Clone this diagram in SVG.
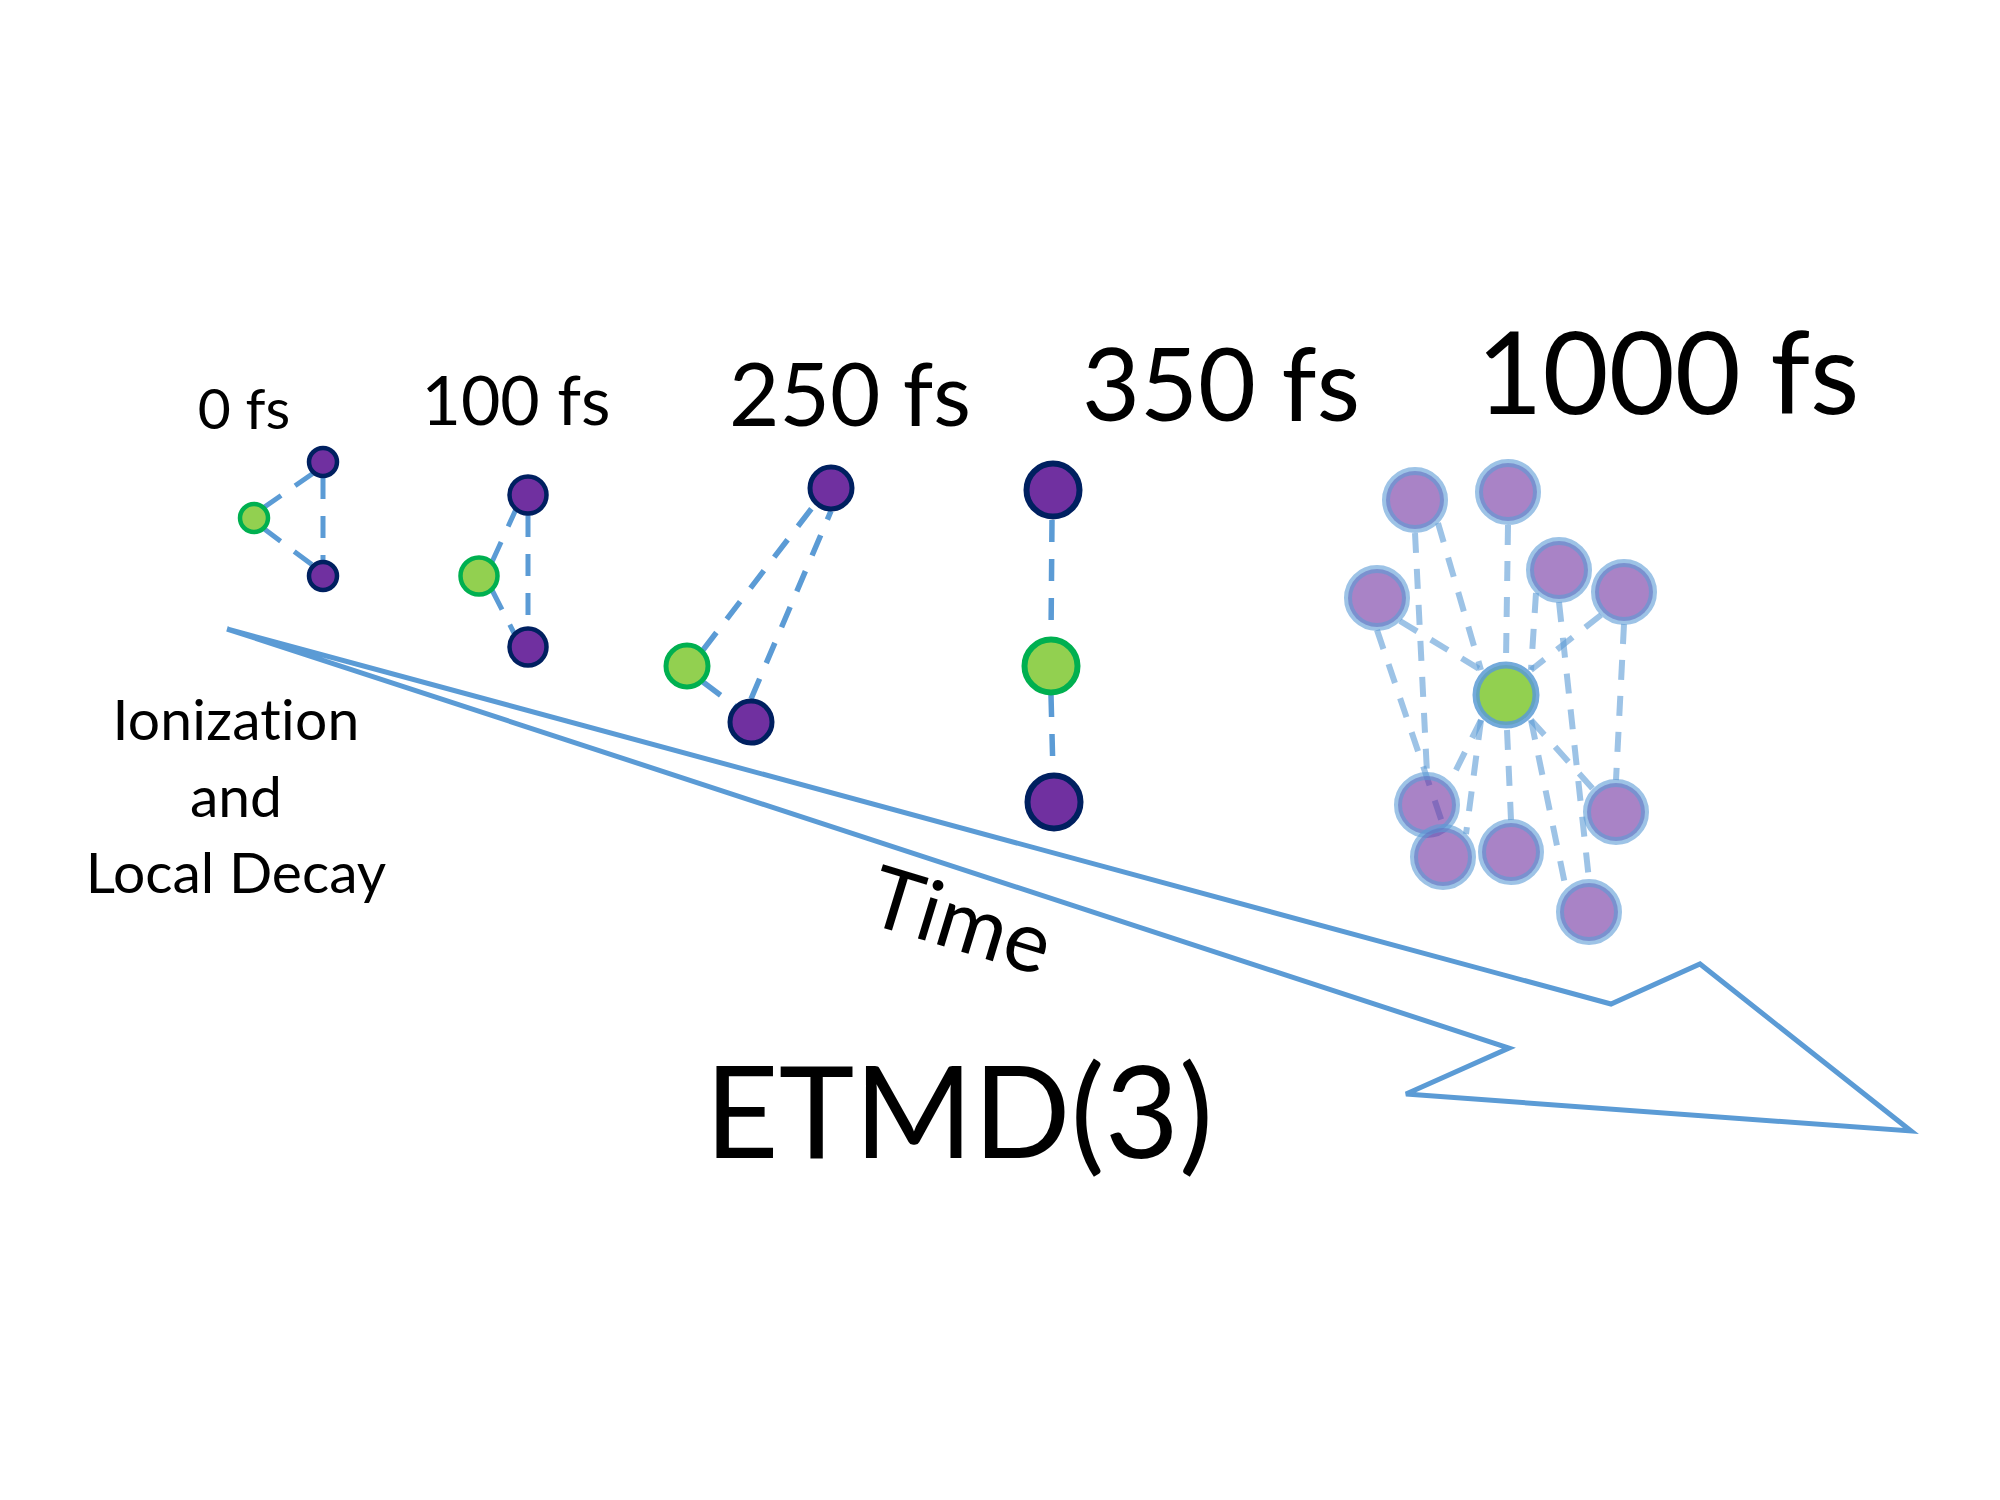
<svg xmlns="http://www.w3.org/2000/svg" width="2000" height="1500" viewBox="0 0 2000 1500">
<style>
text{font-family:Lato,"Open Sans","Liberation Sans",sans-serif;fill:#000;font-variant-ligatures:none;font-feature-settings:"liga" 0,"clig" 0,"calt" 0,"dlig" 0}
.nl{letter-spacing:0.2px}
.d{stroke:#5b9bd5;fill:none;stroke-dasharray:22 17}
.p{fill:#7030a0;stroke:#002060}
.g{fill:#92d050;stroke:#00b050}
.cl{stroke:#5b9bd5;stroke-opacity:0.6;stroke-width:6;stroke-dasharray:20 16;fill:none}
.cp{fill:#7030a0;fill-opacity:0.6;stroke:#5b9bd5;stroke-opacity:0.6;stroke-width:8}
.cg{fill:#92d050;stroke:#5b9bd5;stroke-opacity:0.85;stroke-width:7}
</style>
<rect width="2000" height="1500" fill="#fff"/>
<g id="time-arrow">
<polygon points="227,629 1611,1004 1700,964 1911,1131 1406,1094 1509,1048" fill="none" stroke="#5b9bd5" stroke-width="5" stroke-linejoin="miter"/>
</g>
<g id="connectors">
<g class="d" stroke-width="5">
<line x1="263" y1="508" x2="315" y2="472"/>
<line x1="263" y1="528" x2="315" y2="567"/>
<line x1="323" y1="477" x2="323" y2="562"/>
<line x1="492" y1="562" x2="517" y2="507"/>
<line x1="492" y1="590" x2="515" y2="635"/>
<line x1="528" y1="515" x2="528" y2="630"/>
</g>
<g class="d" stroke-width="5.5">
<line x1="703" y1="650" x2="815" y2="504"/>
<line x1="703" y1="682" x2="735" y2="706"/>
<line x1="751" y1="699" x2="831" y2="511"/>
<line x1="1052" y1="520" x2="1051" y2="638"/>
<line x1="1051" y1="695" x2="1053" y2="773"/>
</g>
<g class="cl">
<line x1="1415" y1="533" x2="1427" y2="773"/>
<line x1="1438" y1="523" x2="1481" y2="670"/>
<line x1="1508" y1="525" x2="1506" y2="660"/>
<line x1="1400" y1="621" x2="1481" y2="670"/>
<line x1="1377" y1="630" x2="1443" y2="825"/>
<line x1="1536" y1="593" x2="1531" y2="670"/>
<line x1="1559" y1="602" x2="1589" y2="880"/>
<line x1="1601" y1="615" x2="1531" y2="670"/>
<line x1="1624" y1="624" x2="1616" y2="780"/>
<line x1="1481" y1="720" x2="1450" y2="782"/>
<line x1="1481" y1="720" x2="1466" y2="834"/>
<line x1="1507" y1="730" x2="1511" y2="820"/>
<line x1="1531" y1="720" x2="1566" y2="889"/>
<line x1="1531" y1="720" x2="1593" y2="789"/>
</g>
</g>
<g id="frame-0fs">
<circle class="g" cx="254" cy="518" r="14" stroke-width="4.5"/>
<circle class="p" cx="323" cy="462" r="14" stroke-width="4.5"/>
<circle class="p" cx="323" cy="576" r="14" stroke-width="4.5"/>
</g>
<g id="frame-100fs">
<circle class="p" cx="528" cy="495" r="18.5" stroke-width="4.5"/>
<circle class="g" cx="479" cy="576" r="18.5" stroke-width="4.5"/>
<circle class="p" cx="528" cy="647" r="18.5" stroke-width="4.5"/>
</g>
<g id="frame-250fs">
<circle class="p" cx="831" cy="488" r="21" stroke-width="5"/>
<circle class="g" cx="687" cy="666" r="21" stroke-width="5"/>
<circle class="p" cx="751" cy="722" r="21" stroke-width="5"/>
</g>
<g id="frame-350fs">
<circle class="p" cx="1053" cy="490" r="26.5" stroke-width="6"/>
<circle class="g" cx="1051" cy="666" r="26.5" stroke-width="6"/>
<circle class="p" cx="1054" cy="802" r="26.5" stroke-width="6"/>
</g>
<g id="frame-1000fs">
<circle class="cp" cx="1415" cy="500" r="29"/>
<circle class="cp" cx="1508" cy="492" r="29"/>
<circle class="cp" cx="1559" cy="570" r="29"/>
<circle class="cp" cx="1624" cy="592" r="29"/>
<circle class="cp" cx="1377" cy="598" r="29"/>
<circle class="cg" cx="1506" cy="695" r="30"/>
<circle class="cp" cx="1427" cy="805" r="29"/>
<circle class="cp" cx="1443" cy="857" r="29"/>
<circle class="cp" cx="1511" cy="852" r="29"/>
<circle class="cp" cx="1616" cy="812" r="29"/>
<circle class="cp" cx="1589" cy="912" r="29"/>
</g>
<g id="labels">
<text x="244" y="429" font-size="57" text-anchor="middle">0 fs</text>
<text x="516" y="425" font-size="68" text-anchor="middle">100 fs</text>
<text x="850" y="426" font-size="87" text-anchor="middle">250 fs</text>
<text x="1221" y="421" font-size="100" text-anchor="middle">350 fs</text>
<text x="1668" y="414" font-size="114" text-anchor="middle">1000 fs</text>
<text class="nl" x="236" y="740" font-size="57" text-anchor="middle">Ionization</text>
<text x="236" y="817" font-size="57" text-anchor="middle">and</text>
<text x="236" y="893" font-size="57" text-anchor="middle">Local Decay</text>
<text x="864" y="922" font-size="85" transform="rotate(17 864 922)">Time</text>
<text x="959" y="1158" font-size="128" text-anchor="middle">ETMD(3)</text>
</g>
</svg>
